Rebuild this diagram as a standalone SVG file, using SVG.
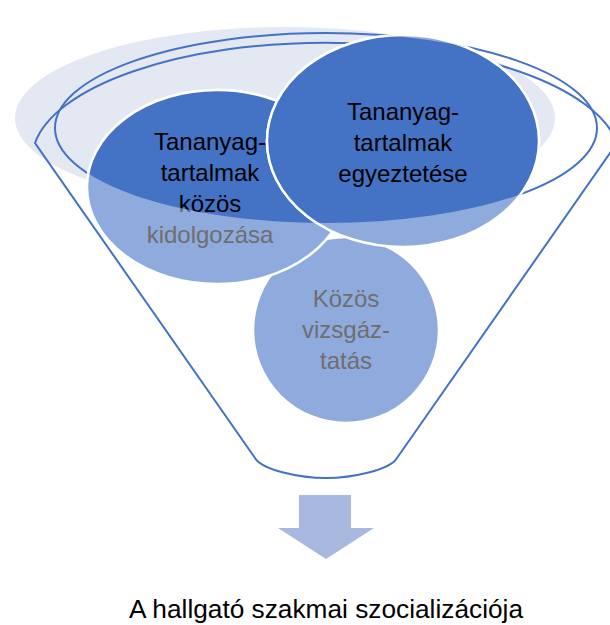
<svg xmlns="http://www.w3.org/2000/svg" width="610" height="625" viewBox="0 0 610 625">
  <style>
    .lbl { font-family: "Liberation Sans", Arial, sans-serif; font-size: 24px; text-anchor: middle; }
    .dark { fill: #4472C4; stroke: #FFFFFF; stroke-width: 2.5; }
    .light { fill: #8FAADC; stroke: #FFFFFF; stroke-width: 2.5; }
    .blk { fill: #000000; }
    .gry { fill: #6E6E6E; }
    .rim { fill: none; stroke: #4472C4; stroke-width: 2; }
  </style>
  <defs>
    <clipPath id="rimClip">
      <ellipse cx="326" cy="128" rx="271" ry="95"/>
    </clipPath>
  </defs>

  <g id="funnel">
    <ellipse cx="285" cy="118" rx="270" ry="91" fill="#E3E8F3"/>
    <path class="rim" d="M 35 143 A 294 117 0 0 1 617 143 L 397 458 C 390 470 352 478 326 478 C 300 478 262 470 255 458 Z"/>
    <ellipse class="rim" cx="326" cy="128" rx="271" ry="95"/>
  </g>

  <g id="node-vizsgaztatas">
    <circle class="light" cx="346" cy="330" r="93"/>
    <text class="lbl gry" x="346" y="307">Közös</text>
    <text class="lbl gry" x="346" y="338">vizsgáz-</text>
    <text class="lbl gry" x="346" y="369">tatás</text>
  </g>

  <g id="node-kidolgozas">
    <ellipse class="light" cx="217" cy="187" rx="130" ry="97"/>
    <text class="lbl gry" x="210" y="150">Tananyag-</text>
    <text class="lbl gry" x="210" y="181">tartalmak</text>
    <text class="lbl gry" x="210" y="212">közös</text>
    <text class="lbl gry" x="210" y="243">kidolgozása</text>
    <g clip-path="url(#rimClip)">
      <ellipse class="dark" cx="217" cy="187" rx="130" ry="97"/>
      <text class="lbl blk" x="210" y="150">Tananyag-</text>
      <text class="lbl blk" x="210" y="181">tartalmak</text>
      <text class="lbl blk" x="210" y="212">közös</text>
      <text class="lbl blk" x="210" y="243">kidolgozása</text>
    </g>
  </g>

  <g id="node-egyeztetes">
    <ellipse class="light" cx="403" cy="141" rx="136" ry="106"/>
    <g clip-path="url(#rimClip)">
      <ellipse class="dark" cx="403" cy="141" rx="136" ry="106"/>
    </g>
    <text class="lbl blk" x="403" y="120">Tananyag-</text>
    <text class="lbl blk" x="403" y="151">tartalmak</text>
    <text class="lbl blk" x="403" y="182">egyeztetése</text>
  </g>

  <g id="connectors">
    <polygon points="299,495 351,495 351,528 374,528 326,559 278,528 299,528" fill="#A9B8DF"/>
  </g>

  <g id="node-result">
    <text x="326" y="618" font-family="'Liberation Sans', Arial, sans-serif" font-size="25" text-anchor="middle" fill="#000000" textLength="394" lengthAdjust="spacingAndGlyphs">A hallgató szakmai szocializációja</text>
  </g>
</svg>
